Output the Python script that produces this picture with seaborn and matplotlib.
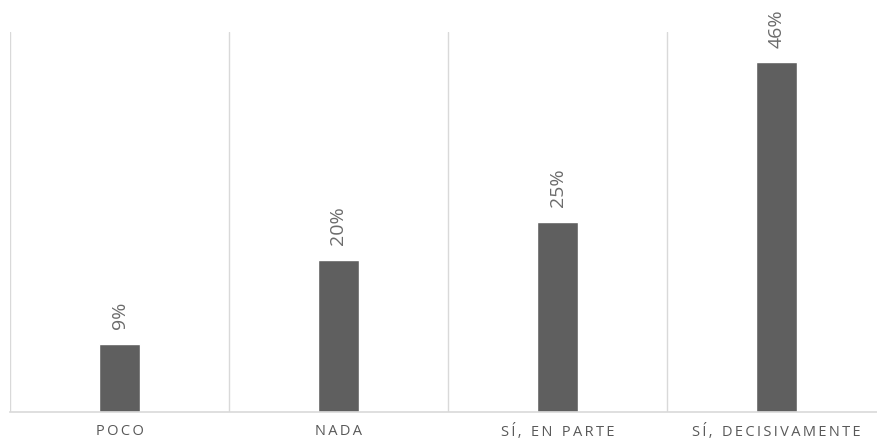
import matplotlib
matplotlib.use("Agg")
import matplotlib.pyplot as plt
import seaborn as sns
import pandas as pd

categories = ["POCO", "NADA", "SÍ, EN PARTE", "SÍ, DECISIVAMENTE"]
values = [9, 20, 25, 46]
labels = ["9%", "20%", "25%", "46%"]

sns.set_theme(style="white")
plt.rcParams['font.family'] = ['Open Sans', 'DejaVu Sans']

W, H = 877, 440
fig = plt.figure(figsize=(W / 100, H / 100), dpi=100)
left, right, top, bottom = 10, 886, 32, 412
ax = fig.add_axes([left / W, 1 - bottom / H, (right - left) / W, (bottom - top) / H])

df = pd.DataFrame({"cat": categories, "val": values})
sns.barplot(data=df, x="cat", y="val", color="#5f5f5f", saturation=1, width=0.183, ax=ax)

ax.set_ylim(0, 50)
ax.set_xlim(-0.5, 3.5)
for s in ["top", "right", "left"]:
    ax.spines[s].set_visible(False)
ax.spines["bottom"].set_color("#d9d9d9")
ax.spines["bottom"].set_linewidth(1.2)
for b in [-0.5, 0.5, 1.5, 2.5]:
    ax.axvline(b, color="#d9d9d9", lw=1.0, zorder=0)

ax.set_yticks([])
ax.set_xlabel("")
ax.set_ylabel("")
spaced = ["\u2009".join(list(c)).replace("\u2009 \u2009", "\u2009\u2009\u2009\u2009") for c in categories]
ax.set_xticks(range(len(categories)))
ax.set_xticklabels(spaced, fontsize=10.5, color="#595959")
ax.tick_params(axis="x", length=0, pad=8.5)

for i, (v, l) in enumerate(zip(values, labels)):
    ax.annotate(l, (i, v), xytext=(0, 10.5), textcoords="offset points", rotation=90,
                ha="center", va="bottom", fontsize=14, color="#6b6b6b")

fig.savefig("out.png", dpi=100)
